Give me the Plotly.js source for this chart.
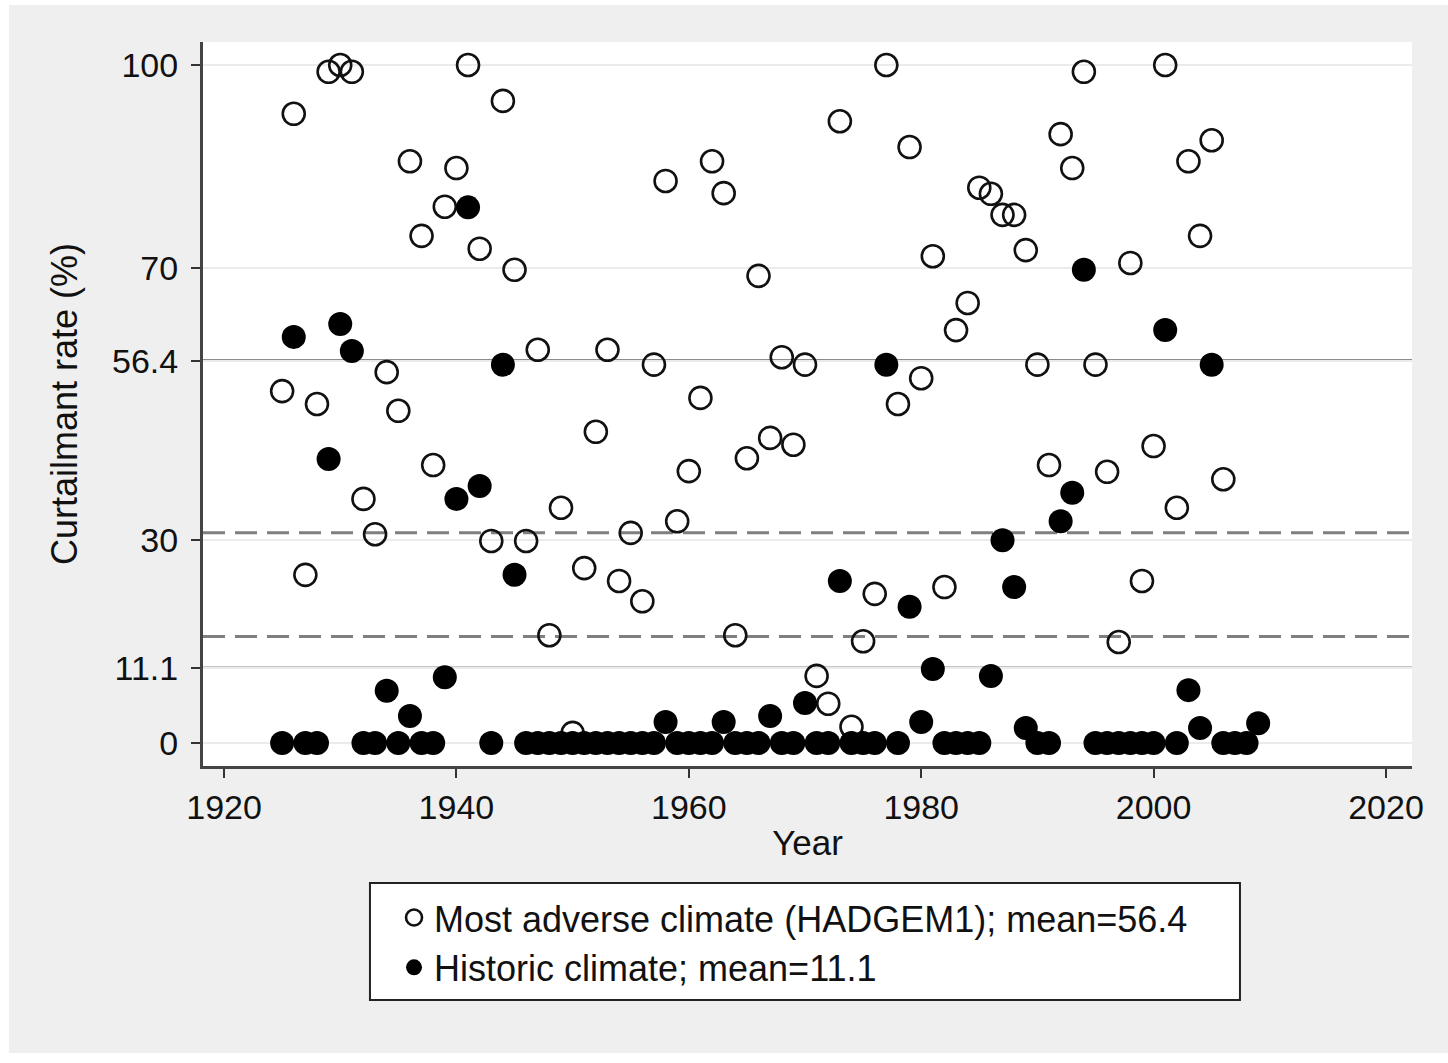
<!DOCTYPE html>
<html>
<head>
<meta charset="utf-8">
<script src="https://cdn.plot.ly/plotly-3.0.1.min.js"></script>
<style>
  html, body { margin: 0; padding: 0; background: #ffffff; }
  #chart { position: absolute; left: 9px; top: 5px; width: 1439px; height: 1048px; }
</style>
</head>
<body>
<div id="chart"></div>
<script>
// Years for each series
const adverseYears = [1925,1926,1927,1928,1929,1930,1931,1932,1933,1934,1935,1936,1937,1938,1939,1940,1941,1942,1943,1944,1945,1946,1947,1948,1949,1950,1951,1952,1953,1954,1955,1956,1957,1958,1959,1960,1961,1962,1963,1964,1965,1966,1967,1968,1969,1970,1971,1972,1973,1974,1975,1976,1977,1978,1979,1980,1981,1982,1983,1984,1985,1986,1987,1988,1989,1990,1991,1992,1993,1994,1995,1996,1997,1998,1999,2000,2001,2002,2003,2004,2005,2006];
// Most adverse climate (HADGEM1) curtailment rate (%)
const adverseRate = [51.9,92.8,24.8,50.0,99.0,100,99.0,36.0,30.8,54.7,49.0,85.8,74.8,41.0,79.1,84.8,100,72.9,29.8,94.7,69.8,29.8,58.0,15.9,34.7,1.5,25.8,45.9,58.0,23.9,31.0,20.9,55.8,82.9,32.7,40.1,50.9,85.8,81.1,15.9,42.0,68.9,45.0,56.9,44.0,55.8,9.9,5.8,91.7,2.4,15.0,22.0,100,50.0,87.9,53.8,71.8,23.0,60.9,64.9,81.9,81.0,77.9,77.9,72.7,55.8,41.0,89.8,84.8,99.0,55.8,40.0,14.9,70.8,23.9,43.8,100,34.7,85.8,74.8,88.9,38.9];

const historicYears = [1925,1926,1927,1928,1929,1930,1931,1932,1933,1934,1935,1936,1937,1938,1939,1940,1941,1942,1943,1944,1945,1946,1947,1948,1949,1950,1951,1952,1953,1954,1955,1956,1957,1958,1959,1960,1961,1962,1963,1964,1965,1966,1967,1968,1969,1970,1971,1972,1973,1974,1975,1976,1977,1978,1979,1980,1981,1982,1983,1984,1985,1986,1987,1988,1989,1990,1991,1992,1993,1994,1995,1996,1997,1998,1999,2000,2001,2002,2003,2004,2005,2006,2007,2008,2009];
// Historic climate curtailment rate (%)
const historicRate = [0,59.9,0,0,41.9,61.8,57.8,0,0,7.7,0,4.0,0,0,9.7,36.0,79.0,37.9,0,55.8,24.8,0,0,0,0,0,0,0,0,0,0,0,0,3.1,0,0,0,0,3.1,0,0,0,4.0,0,0,5.9,0,0,23.9,0,0,0,55.8,0,20.1,3.1,10.9,0,0,0,0,9.9,29.9,23.0,2.2,0,0,32.7,36.9,69.8,0,0,0,0,0,0,60.9,0,7.8,2.2,55.8,0,0,0,2.9];

// Reference lines
const meanLines = [56.4, 11.1];
const dashedLines = [31.0, 15.7];

// Axis ticks
const yTickVals = [0, 11.1, 30, 56.4, 70, 100];
const yTickText = ['0', '11.1', '30', '56.4', '70', '100'];
const xTickVals = [1920, 1940, 1960, 1980, 2000, 2020];

const seriesNames = ['Most adverse climate (HADGEM1); mean=56.4', 'Historic climate; mean=11.1'];

const FONT = 'Liberation Sans, Arial, sans-serif';

const traces = [
  {
    x: adverseYears, y: adverseRate, type: 'scatter', mode: 'markers',
    name: seriesNames[0],
    marker: { symbol: 'circle-open', size: 22, color: '#111111', line: { width: 2.6, color: '#111111' } },
    cliponaxis: false
  },
  {
    x: historicYears, y: historicRate, type: 'scatter', mode: 'markers',
    name: seriesNames[1],
    marker: { symbol: 'circle', size: 24, color: '#000000', line: { width: 0 } },
    cliponaxis: false
  }
];

const shapes = [];
meanLines.forEach(v => shapes.push({
  type: 'line', xref: 'paper', x0: 0, x1: 1, yref: 'y', y0: v, y1: v,
  line: { color: '#1a1a1a', width: 2 }, layer: 'below'
}));
dashedLines.forEach(v => shapes.push({
  type: 'line', xref: 'paper', x0: 0, x1: 1, yref: 'y', y0: v, y1: v,
  line: { color: '#7f7f7f', width: 3, dash: '22px,10px' }, layer: 'below'
}));
// legend frame
shapes.push({
  type: 'rect', xref: 'paper', yref: 'paper',
  x0: 0.1381, x1: 0.8577, y0: -0.3232, y1: -0.1616,
  line: { color: '#222222', width: 2 }, fillcolor: '#ffffff', layer: 'below'
});

const layout = {
  width: 1439, height: 1048,
  paper_bgcolor: '#efefef',
  plot_bgcolor: '#ffffff',
  margin: { l: 194, r: 36, t: 37, b: 287 },
  font: { family: FONT, color: '#111111', size: 34 },
  showlegend: true,
  legend: {
    x: 0.158, xanchor: 'left', y: -0.168, yanchor: 'top',
    bgcolor: 'rgba(0,0,0,0)', borderwidth: 0,
    font: { family: FONT, size: 36, color: '#111111' },
    tracegroupgap: 0, itemsizing: 'trace'
  },
  xaxis: {
    range: [1918.19, 2022.24],
    tickmode: 'array', tickvals: xTickVals,
    ticks: 'outside', ticklen: 9, tickwidth: 2, tickcolor: '#333333',
    showline: true, linecolor: '#444444', linewidth: 3,
    showgrid: false, zeroline: false,
    tickfont: { family: FONT, size: 34, color: '#111111' },
    title: { text: 'Year', font: { family: FONT, size: 35, color: '#111111' }, standoff: 6 }
  },
  yaxis: {
    range: [-3.39, 103.39],
    tickmode: 'array', tickvals: yTickVals, ticktext: yTickText,
    ticks: 'outside', ticklen: 9, tickwidth: 2, tickcolor: '#333333',
    ticklabelstandoff: 6,
    showline: true, linecolor: '#444444', linewidth: 3,
    showgrid: true, gridcolor: '#ebebeb', gridwidth: 2, zeroline: false,
    tickfont: { family: FONT, size: 34, color: '#111111' },
    title: { text: 'Curtailmant rate (%)', font: { family: FONT, size: 36, color: '#111111' }, standoff: 24 }
  },
  shapes: shapes
};

Plotly.newPlot('chart', traces, layout, { displayModeBar: false, staticPlot: true });
</script>
</body>
</html>
